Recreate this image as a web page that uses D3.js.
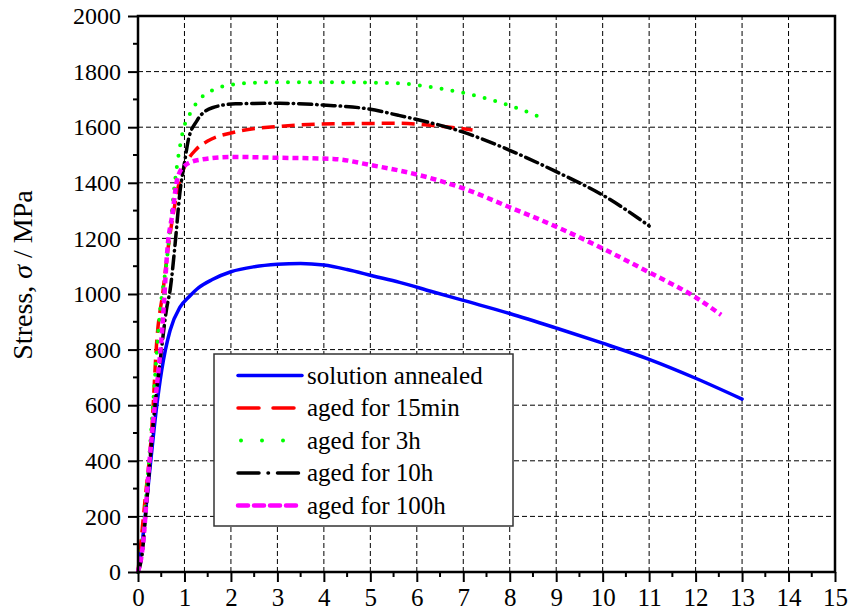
<!DOCTYPE html>
<html>
<head>
<meta charset="utf-8">
<script src="https://cdn.jsdelivr.net/npm/d3@7"></script>
<style>
  html, body { margin: 0; background: #fff; }
  svg { display: block; }
  svg text { font-family: "Liberation Serif", "DejaVu Serif", serif; }
</style>
</head>
<body>
<svg id="chart" width="851" height="614"></svg>
<script>
// === 1. data (strain %, stress MPa) ====================================
const annealed = [[0,0],[0.11,133],[0.26,377],[0.4,593],[0.51,726],[0.69,869],[0.9,952],[1.1,990],
  [1.3,1022],[1.6,1052],[2,1080],[2.5,1098],[3,1107],[3.5,1110],[4,1104],[4.5,1088],[5.06,1065],
  [5.63,1042],[6.3,1010],[7,977],[8,930],[9.03,876],[10,823],[11,765],[12,697],[13,622]];
const aged15min = [[0,0],[0.15,257],[0.3,520],[0.4,822],[0.54,1013],[0.65,1168],[0.76,1290],[0.9,1410],
  [1.05,1475],[1.25,1520],[1.5,1550],[2.1,1583],[3.05,1603],[4.2,1612],[5.6,1614],[6.35,1606],[7.2,1590]];
const aged3h = [[0,0],[0.08,90],[0.22,365],[0.33,617],[0.47,930],[0.62,1121],[0.73,1301],[0.8,1410],
  [0.9,1528],[0.97,1588],[1.12,1649],[1.27,1690],[1.6,1733],[2,1752],[2.5,1760],[3,1762],[4.2,1762],
  [5.6,1758],[6.35,1743],[7.07,1721],[8,1678],[8.75,1630]];
const aged10h = [[0,0],[0.08,53],[0.19,257],[0.3,484],[0.4,653],[0.47,750],[0.62,952],[0.69,1013],
  [0.8,1182],[0.9,1362],[1.01,1481],[1.08,1552],[1.27,1624],[1.6,1670],[2.1,1684],[3.05,1686],
  [4.06,1679],[4.9,1667],[5.6,1643],[7,1582],[8,1517],[9,1440],[10.08,1348],[11,1245]];
const aged100h = [[0,0],[0.11,103],[0.22,345],[0.33,546],[0.52,869],[0.65,1193],[0.73,1276],[0.84,1409],
  [0.97,1456],[1.27,1481],[2,1493],[3.05,1490],[4.2,1486],[5.06,1462],[5.63,1444],[7,1380],[8,1312],
  [9.03,1240],[10.08,1157],[11,1078],[12,988],[12.55,925]];

const seriesNames = ['solution annealed', 'aged for 15min', 'aged for 3h', 'aged for 10h', 'aged for 100h'];
const xTickValues = [0,1,2,3,4,5,6,7,8,9,10,11,12,13,14,15];
const yTickValues = [0,200,400,600,800,1000,1200,1400,1600,1800,2000];

// === 2. styles ==========================================================
const styles = [
  { color: '#0000ff', width: 3.5, dash: null,         legDash: null,         cap: 'round' },
  { color: '#ff0000', width: 3.5, dash: '13,7',       legDash: '21,14',      cap: 'butt'  },
  { color: '#00ff00', width: 4,   dash: '0,11',       legDash: '0,21',       cap: 'round' },
  { color: '#000000', width: 3.5, dash: '13,5,0.5,5', legDash: '21,9,0.5,9', cap: 'round' },
  { color: '#ff00ff', width: 4.5, dash: '6,4',        legDash: '10,6',       cap: 'butt'  }
];
const allSeries = [annealed, aged15min, aged3h, aged10h, aged100h];
const FONT = '"Liberation Serif", "DejaVu Serif", serif';

// === 3. scales + grid ===================================================
const svg = d3.select('#chart');
const x = d3.scaleLinear().domain([0, 15]).range([138, 835]);
const y = d3.scaleLinear().domain([0, 2000]).range([572, 16]);

const grid = svg.append('g')
  .attr('stroke', '#000').attr('stroke-width', 1).attr('stroke-dasharray', '5,3');
grid.selectAll('line.gx').data(xTickValues.slice(1, -1)).join('line')
  .attr('x1', d => x(d)).attr('x2', d => x(d)).attr('y1', y(0)).attr('y2', y(2000));
grid.selectAll('line.gy').data(yTickValues.slice(1, -1)).join('line')
  .attr('x1', x(0)).attr('x2', x(15)).attr('y1', d => y(d)).attr('y2', d => y(d));

// === 4. curves ==========================================================
const line = d3.line().x(d => x(d[0])).y(d => y(d[1])).curve(d3.curveMonotoneX);
svg.append('g').selectAll('path').data(allSeries).join('path')
  .attr('d', line)
  .attr('fill', 'none')
  .attr('stroke', (d, i) => styles[i].color)
  .attr('stroke-width', (d, i) => styles[i].width)
  .attr('stroke-dasharray', (d, i) => styles[i].dash)
  .attr('stroke-linecap', (d, i) => styles[i].cap)
  .attr('stroke-linejoin', 'round');

// === 5. axes (outward ticks, frame) =====================================
const xAxis = d3.axisBottom(x).tickValues(xTickValues).tickFormat(d3.format('d')).tickSize(10).tickPadding(6);
const yAxis = d3.axisLeft(y).tickValues(yTickValues).tickFormat(d3.format('d')).tickSize(10).tickPadding(7);

const gx = svg.append('g').attr('transform', `translate(0,${y(0)})`).call(xAxis);
const gy = svg.append('g').attr('transform', `translate(${x(0)},0)`).call(yAxis);
[gx, gy].forEach(g => {
  g.attr('font-family', FONT);
  g.select('.domain').remove();
  g.selectAll('.tick line').attr('stroke', '#000').attr('stroke-width', 2);
  g.selectAll('.tick text').attr('fill', '#000');
});
gx.attr('font-size', 25);
gy.attr('font-size', 24);

// minor ticks
svg.append('g').attr('stroke', '#000').attr('stroke-width', 2)
  .selectAll('line').data(d3.range(0.5, 15, 1)).join('line')
  .attr('x1', d => x(d)).attr('x2', d => x(d)).attr('y1', y(0)).attr('y2', y(0) + 5);
svg.append('g').attr('stroke', '#000').attr('stroke-width', 2)
  .selectAll('line').data(d3.range(100, 2000, 200)).join('line')
  .attr('x1', x(0) - 5).attr('x2', x(0)).attr('y1', d => y(d)).attr('y2', d => y(d));

svg.append('rect')
  .attr('x', x(0)).attr('y', y(2000))
  .attr('width', x(15) - x(0)).attr('height', y(0) - y(2000))
  .attr('fill', 'none').attr('stroke', '#000').attr('stroke-width', 2.5);

// y label
const yl = svg.append('text')
  .attr('transform', 'translate(32,275) rotate(-90)')
  .attr('text-anchor', 'middle')
  .attr('font-size', 28);
yl.append('tspan').text('Stress, ');
yl.append('tspan').attr('font-style', 'italic').text('σ');
yl.append('tspan').text(' / MPa');

// === 6. legend ==========================================================
const leg = svg.append('g');
leg.append('rect')
  .attr('x', 214).attr('y', 354).attr('width', 299).attr('height', 172)
  .attr('fill', '#fff').attr('stroke', '#333').attr('stroke-width', 1.5);
const rows = leg.selectAll('g.row').data(seriesNames).join('g')
  .attr('transform', (d, i) => `translate(0,${375.5 + i * 32.5})`);
rows.append('line')
  .attr('x1', (d, i) => i === 2 ? 241 : 238)
  .attr('x2', (d, i) => i === 2 ? 285 : 302)
  .attr('stroke', (d, i) => styles[i].color)
  .attr('stroke-width', (d, i) => styles[i].width)
  .attr('stroke-dasharray', (d, i) => styles[i].legDash)
  .attr('stroke-linecap', 'round');
rows.append('text')
  .attr('x', 307).attr('dy', '0.33em')
  .attr('font-size', 25)
  .text(d => d);
</script>
</body>
</html>
